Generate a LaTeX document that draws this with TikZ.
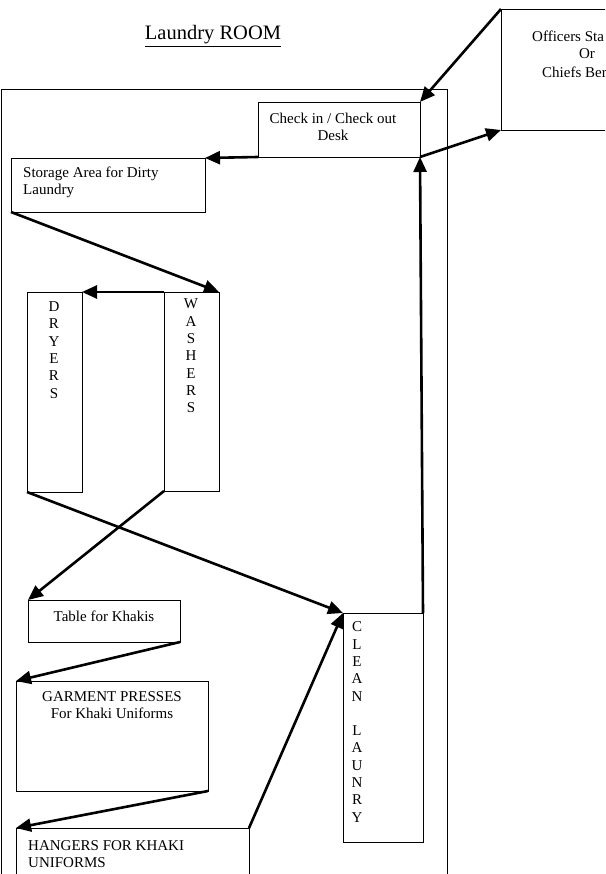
\documentclass[tikz,border=0pt]{standalone}
\usepackage{fontspec}
\setmainfont{Liberation Serif}
\usetikzlibrary{arrows.meta}
\newcommand\rbox[5]{\node[boxst, minimum width={(#4-#2)*1pt}, minimum height={(#5-#3)*1pt}] (#1) at ({(#2+#4)/2},{(#3+#5)/2}) {};}
\begin{document}
\begin{tikzpicture}[x=1pt,y=-1pt,
  boxst/.style={draw, line width=0.8pt, inner sep=0pt, outer sep=0pt},
  arr/.style={line width=2.6pt, -{Triangle[length=15pt,width=13pt]}},
  txt/.style={font=\fontsize{15}{17.3}\selectfont, inner sep=0pt},
  vtxt/.style={txt, align=center}]
\useasboundingbox (0,0) rectangle (605,874);
\clip (0,0) rectangle (605,874);
\fill[white] (0,0) rectangle (605,874);

% boxes
\rbox{room}{1}{89}{447}{910}
\rbox{officers}{501}{9}{640}{130}
\rbox{desk}{258}{102}{420}{157}
\rbox{storage}{11}{158}{205}{212}
\rbox{dryers}{27}{292}{82}{492}
\rbox{washers}{164}{292}{219}{491}
\rbox{table}{28}{600}{180}{642}
\rbox{presses}{16}{681}{208}{791}
\rbox{hangers}{16}{828}{249}{910}
\rbox{clean}{343}{613}{423}{842}

% texts
\node[font=\fontsize{20.5}{24}\selectfont, inner sep=0pt] (title) at (213,36) {\underline{Laundry ROOM}};
\node[txt, anchor=west] (off1) at (532,36) {Officers Sta};
\node[txt] (off2) at (587,54) {Or};
\node[txt, anchor=west] (off3) at (542,72) {Chiefs Ber};
\node[txt, align=center] (desktxt) at (333,127) {Check in / Check out\\Desk};
\node[txt, align=left, anchor=west] (stortxt) at (23,182) {Storage Area for Dirty\\Laundry};
\node[vtxt] (drytxt) at (54,350) {D\\R\\Y\\E\\R\\S};
\node[vtxt] (washtxt) at (191,356) {W\\A\\S\\H\\E\\R\\S};
\node[txt] (tabletxt) at (104,616) {Table for Khakis};
\node[txt, align=center] (presstxt) at (112,705) {GARMENT PRESSES\\For Khaki Uniforms};
\node[txt, align=left, anchor=west] (hangtxt) at (28,854) {HANGERS FOR KHAKI\\UNIFORMS};
\node[vtxt] (cleantxt) at (357,722) {C\\L\\E\\A\\N\\\strut\\L\\A\\U\\N\\R\\Y};

% arrows
\draw[arr] (officers.north west) -- (desk.north east);
\draw[arr] (desk.south east) -- (officers.south west);
\draw[arr] (desk.south west) -- (storage.north east);
\draw[arr] (storage.south west) -- (washers.north east);
\draw[arr] (washers.north west) -- (dryers.north east);
\draw[arr] (dryers.south west) -- (clean.north west);
\draw[arr] (washers.south west) -- (table.north west);
\draw[arr] (table.south east) -- (presses.north west);
\draw[arr] (presses.south east) -- (hangers.north west);
\draw[arr] (hangers.north east) -- (clean.north west);
\draw[arr] (clean.north east) -- (desk.south east);
\end{tikzpicture}
\end{document}
